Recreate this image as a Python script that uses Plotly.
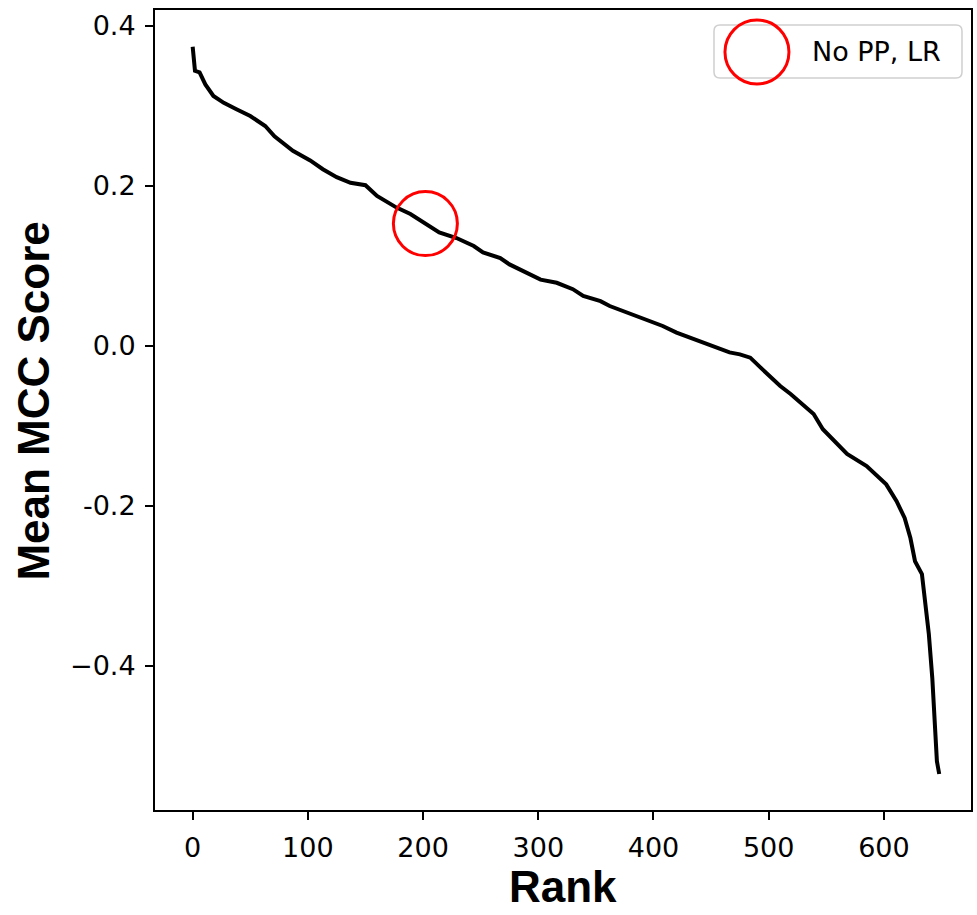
import plotly.graph_objects as go

# ---- data ----
rank = [0, 2, 6, 11, 18, 27, 38, 50, 63, 71, 87, 102, 113, 125, 137, 150, 160, 177,
        189, 203, 214, 229, 244, 252, 267, 275, 290, 302, 316, 330, 339, 354, 362,
        377, 391, 408, 420, 437, 452, 466, 475, 484, 493, 501, 510, 519, 530, 539,
        547, 553, 568, 585, 602, 611, 618, 623, 627, 633, 636, 639, 642, 644, 646, 648]
mean_mcc = [0.374, 0.344, 0.342, 0.327, 0.3125, 0.304, 0.296, 0.2875, 0.275, 0.262,
            0.244, 0.232, 0.221, 0.211, 0.204, 0.201, 0.1875, 0.173, 0.165, 0.152,
            0.142, 0.135, 0.125, 0.117, 0.110, 0.102, 0.092, 0.083, 0.079, 0.071,
            0.0625, 0.056, 0.050, 0.0417, 0.035, 0.025, 0.0167, 0.008, 0.0, -0.008,
            -0.0104, -0.0146, -0.027, -0.0375, -0.05, -0.060, -0.073, -0.085, -0.104,
            -0.1125, -0.135, -0.15, -0.173, -0.194, -0.215, -0.24, -0.269, -0.285,
            -0.319, -0.36, -0.415, -0.465, -0.519, -0.535]

highlight_rank = [202]
highlight_score = [0.153]
highlight_label = "No PP, LR"

x_title = "Rank"
y_title = "Mean MCC Score"
x_tick_vals = [0, 100, 200, 300, 400, 500, 600]
x_tick_text = ["0", "100", "200", "300", "400", "500", "600"]
y_tick_vals = [-0.4, -0.2, 0.0, 0.2, 0.4]
y_tick_text = ["\u22120.4", "-0.2", "0.0", "0.2", "0.4"]

RED = "#ff0000"
TICK_FONT = dict(family="DejaVu Sans", size=27, color="black")
TITLE_FONT = dict(family="Liberation Sans", size=44, color="black", weight="bold")

fig = go.Figure()
fig.add_trace(go.Scatter(
    x=rank, y=mean_mcc, mode="lines",
    line=dict(color="black", width=4),
    showlegend=False, hoverinfo="skip"))
fig.add_trace(go.Scatter(
    x=highlight_rank, y=highlight_score, mode="markers",
    marker=dict(symbol="circle-open", size=64, color=RED, line=dict(color=RED, width=3)),
    name=highlight_label, showlegend=False))

# manual legend (plotly caps legend marker size)
fig.add_shape(type="path", xref="paper", yref="paper",
              xsizemode="pixel", ysizemode="pixel", xanchor=0.837, yanchor=0.948,
              path=("M -118,-26.5 L 118,-26.5 Q 124,-26.5 124,-20.5 L 124,20.5 "
                    "Q 124,26.5 118,26.5 L -118,26.5 Q -124,26.5 -124,20.5 "
                    "L -124,-20.5 Q -124,-26.5 -118,-26.5 Z"),
              line=dict(color="#cfcfcf", width=1.5), fillcolor="rgba(255,255,255,0.8)")
fig.add_shape(type="circle", xref="paper", yref="paper",
              xsizemode="pixel", ysizemode="pixel", xanchor=0.7377, yanchor=0.9475,
              x0=-32, x1=32, y0=-32, y1=32, line=dict(color=RED, width=3))
fig.add_annotation(xref="paper", yref="paper", x=0.8027, y=0.9475,
                   xanchor="left", yanchor="middle", showarrow=False,
                   text=highlight_label,
                   font=dict(family="DejaVu Sans", size=27, color="black"))

# axis titles
fig.add_annotation(xref="paper", yref="paper", x=0.5, y=-0.096,
                   xanchor="center", yanchor="middle", showarrow=False,
                   text=x_title, font=TITLE_FONT)
fig.add_annotation(xref="paper", yref="paper", x=-0.149, y=0.511,
                   xanchor="center", yanchor="middle", showarrow=False,
                   textangle=-90, text=y_title, font=TITLE_FONT)

fig.update_layout(
    width=977, height=915,
    margin=dict(l=155, r=6, t=10, b=105),
    paper_bgcolor="white", plot_bgcolor="white",
    showlegend=False,
)
fig.update_xaxes(
    range=[-32.7, 675.6], showgrid=False, zeroline=False, automargin=False,
    showline=True, linecolor="black", linewidth=2, mirror=True,
    ticks="outside", ticklen=8, tickwidth=2, tickcolor="black",
    ticklabelstandoff=5,
    tickvals=x_tick_vals, ticktext=x_tick_text, tickfont=TICK_FONT,
)
fig.update_yaxes(
    range=[-0.58, 0.42], showgrid=False, zeroline=False, automargin=False,
    showline=True, linecolor="black", linewidth=2, mirror=True,
    ticks="outside", ticklen=8, tickwidth=2, tickcolor="black",
    ticklabelstandoff=4,
    tickvals=y_tick_vals, ticktext=y_tick_text, tickfont=TICK_FONT,
)

fig.write_html(
    "out.html",
    config={"displayModeBar": False},
    post_script="document.body.style.margin='0';document.body.style.overflow='hidden';",
)
